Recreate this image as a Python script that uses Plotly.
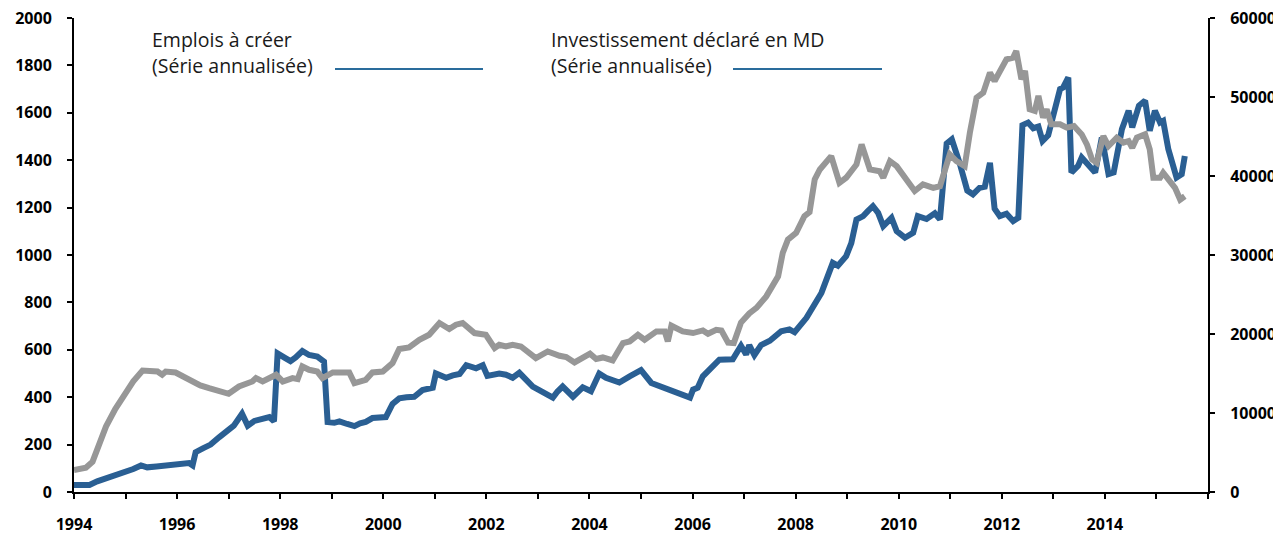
import plotly.graph_objects as go

# ---- data (decimal years) ----
emplois_x = [1994.00, 1994.15, 1994.30, 1994.45, 1994.6, 1994.8, 1995.0, 1995.15, 1995.3, 1995.42, 1995.6, 1995.8,
             1996.0, 1996.23, 1996.3, 1996.36, 1996.5, 1996.65, 1996.82, 1997.0, 1997.1, 1997.26, 1997.37, 1997.5,
             1997.59, 1997.79, 1997.88, 1997.95, 1998.1, 1998.2, 1998.3, 1998.43, 1998.56, 1998.72, 1998.85, 1998.92,
             1999.05, 1999.15, 1999.3, 1999.44, 1999.55, 1999.66, 1999.79, 2000.05, 2000.18, 2000.31, 2000.45, 2000.6,
             2000.76, 2000.96, 2001.02, 2001.22, 2001.35, 2001.48, 2001.61, 2001.8, 2001.93, 2002.02, 2002.25, 2002.38,
             2002.51, 2002.64, 2002.9, 2003.05, 2003.16, 2003.29, 2003.38, 2003.48, 2003.68, 2003.87, 2004.03, 2004.19,
             2004.32, 2004.45, 2004.58, 2004.78, 2005.0, 2005.2, 2005.35, 2005.49, 2005.68, 2005.8, 2005.95, 2006.01,
             2006.1, 2006.2, 2006.35, 2006.52, 2006.78, 2006.94, 2007.04, 2007.1, 2007.2, 2007.33, 2007.5, 2007.72,
             2007.88, 2007.98, 2008.21, 2008.37, 2008.5, 2008.72, 2008.82, 2008.98, 2009.08, 2009.18, 2009.31, 2009.4,
             2009.5, 2009.6, 2009.7, 2009.86, 2009.96, 2010.12, 2010.28, 2010.37, 2010.54, 2010.7, 2010.8, 2010.93,
             2011.03, 2011.18, 2011.33, 2011.44, 2011.57, 2011.67, 2011.77, 2011.86, 2011.96, 2012.09, 2012.22, 2012.32,
             2012.4, 2012.51, 2012.61, 2012.71, 2012.79, 2012.9, 2013.03, 2013.13, 2013.19, 2013.29, 2013.35, 2013.48,
             2013.55, 2013.65, 2013.81, 2013.94, 2014.07, 2014.17, 2014.33, 2014.46, 2014.53, 2014.66, 2014.78, 2014.87,
             2014.97, 2015.07, 2015.13, 2015.23, 2015.39, 2015.49, 2015.55]
emplois_y = [30, 28, 30, 45, 55, 68, 85, 97, 112, 104, 108, 114,
             117, 122, 112, 168, 184, 200, 232, 262, 280, 330, 280, 300,
             305, 316, 298, 585, 565, 552, 568, 595, 578, 571, 550, 295,
             292, 298, 287, 278, 290, 296, 312, 316, 372, 395, 400, 402,
             430, 440, 500, 482, 492, 498, 535, 522, 535, 490, 500, 495,
             482, 503, 445, 425, 410, 398, 424, 445, 402, 442, 425, 500,
             482, 470, 462, 488, 514, 460, 448, 438, 424, 410, 398, 432,
             440, 488, 520, 558, 560, 617, 580, 620, 578, 620, 638, 678,
             686, 674, 735, 790, 840, 967, 955, 995, 1050, 1150, 1164, 1185,
             1206, 1178, 1122, 1157, 1101, 1073, 1094, 1164, 1152, 1176, 1150, 1470,
             1488, 1389, 1272, 1256, 1284, 1288, 1389, 1195, 1164, 1174, 1143, 1157,
             1548, 1559, 1535, 1542, 1481, 1505, 1616, 1700, 1707, 1749, 1348, 1376,
             1411, 1389, 1348, 1496, 1341, 1348, 1531, 1609, 1538, 1630, 1651, 1524,
             1609, 1559, 1566, 1447, 1327, 1341, 1418]

invest_x = [1994.0, 1994.23, 1994.36, 1994.5, 1994.62, 1994.8, 1995.0, 1995.15, 1995.33, 1995.62, 1995.71, 1995.78,
            1995.97, 1996.1, 1996.3, 1996.45, 1996.62, 1996.8, 1997.0, 1997.2, 1997.46, 1997.53, 1997.66, 1997.92,
            1998.05, 1998.24, 1998.34, 1998.43, 1998.56, 1998.72, 1998.82, 1999.02, 1999.34, 1999.44, 1999.66, 1999.79,
            1999.99, 2000.18, 2000.31, 2000.5, 2000.7, 2000.89, 2001.09, 2001.28, 2001.41, 2001.54, 2001.77, 2001.99,
            2002.16, 2002.25, 2002.38, 2002.51, 2002.67, 2002.96, 2003.19, 2003.42, 2003.55, 2003.71, 2003.84, 2004.01,
            2004.13, 2004.26, 2004.45, 2004.65, 2004.78, 2004.94, 2005.07, 2005.3, 2005.46, 2005.52, 2005.59, 2005.81,
            2006.01, 2006.2, 2006.3, 2006.46, 2006.56, 2006.69, 2006.8, 2006.94, 2007.1, 2007.24, 2007.43, 2007.53,
            2007.66, 2007.75, 2007.85, 2008.01, 2008.17, 2008.27, 2008.37, 2008.47, 2008.69, 2008.85, 2008.98, 2009.18,
            2009.28, 2009.44, 2009.63, 2009.7, 2009.83, 2009.96, 2010.15, 2010.31, 2010.47, 2010.67, 2010.8, 2010.99,
            2011.12, 2011.28, 2011.38, 2011.51, 2011.64, 2011.77, 2011.86, 2012.09, 2012.22, 2012.28, 2012.38, 2012.45,
            2012.54, 2012.64, 2012.71, 2012.8, 2012.87, 2012.96, 2013.13, 2013.26, 2013.4, 2013.55, 2013.65, 2013.75,
            2013.84, 2013.97, 2014.07, 2014.23, 2014.36, 2014.46, 2014.53, 2014.62, 2014.78, 2014.87, 2014.94, 2015.07,
            2015.13, 2015.26, 2015.36, 2015.46, 2015.55]
invest_y = [2790, 3080, 3840, 6000, 8280, 10500, 12510, 14000, 15380, 15250, 14840, 15250,
            15130, 14700, 13990, 13500, 13150, 12800, 12430, 13350, 13990, 14420, 13990, 14840,
            13990, 14420, 14290, 15890, 15470, 15250, 14420, 15130, 15130, 13780, 14200, 15130,
            15250, 16320, 18100, 18300, 19270, 19900, 21390, 20630, 21180, 21390, 20120, 19900,
            18220, 18640, 18420, 18640, 18420, 16950, 17790, 17240, 17080, 16400, 16950, 17500,
            16830, 17030, 16650, 18850, 19060, 19900, 19270, 20330, 20330, 19060, 21050, 20330,
            20120, 20450, 20030, 20540, 20450, 18900, 18850, 21450, 22600, 23300, 24760, 26030,
            27300, 30270, 31950, 32800, 34910, 35420, 39560, 40830, 42520, 39140, 39780, 41460,
            44000, 40830, 40610, 39780, 41880, 41250, 39560, 38100, 38930, 38500, 38710, 42730,
            41880, 41250, 45480, 49920, 50560, 53090, 52030, 54780, 54990, 55830, 52240, 53300,
            48440, 48230, 50130, 47390, 48440, 46540, 46540, 46120, 46330, 45270, 44000, 42100,
            41670, 45060, 43790, 44850, 44220, 44430, 43580, 44850, 45270, 43370, 39780, 39780,
            40410, 39140, 38500, 37020, 37440]

year_ticks = list(range(1994, 2017))
year_labels = [str(y) if y % 2 == 0 and y < 2016 else "" for y in year_ticks]
left_ticks = [0, 200, 400, 600, 800, 1000, 1200, 1400, 1600, 1800, 2000]
right_ticks = [0, 10000, 20000, 30000, 40000, 50000, 60000]
right_labels = [str(v) for v in right_ticks]

label_emplois = ["Emplois à créer", "(Série annualisée)"]
label_invest = ["Investissement déclaré en MD", "(Série annualisée)"]

BLUE = "#2a5f93"
GRAY = "#979797"
LEG_BLUE = "#2a6c9c"
FONT = "Open Sans"

# the page body adds an 8px offset; compensate so the plot sits where the original does
OFF = 8
W, H = 1281 - OFF, 535 - OFF
ML, MR, MT, MB = 74 - OFF, 73, 18 - OFF, 43

fig = go.Figure()
fig.add_trace(go.Scatter(x=emplois_x, y=emplois_y, mode="lines", name=label_emplois[0],
                         line=dict(color=BLUE, width=6), yaxis="y", xaxis="x"))
fig.add_trace(go.Scatter(x=invest_x, y=invest_y, mode="lines", name=label_invest[0],
                         line=dict(color=GRAY, width=6), yaxis="y2", xaxis="x"))

tickfont = dict(family=FONT, size=16, color="black", weight="bold")
common_tick = dict(ticklen=5, tickwidth=2, tickcolor="black", showgrid=False, zeroline=False,
                   automargin=False)

fig.update_layout(
    width=W, height=H,
    margin=dict(l=ML, r=MR, t=MT, b=MB),
    plot_bgcolor="white", paper_bgcolor="white",
    showlegend=False,
    font=dict(family=FONT, color="black"),
    xaxis=dict(range=[1994, 2016], tickvals=year_ticks, ticktext=year_labels, ticks="outside",
               showline=True, linecolor="black", linewidth=2, tickfont=tickfont,
               ticklabelstandoff=12, ticklabeloverflow="allow", **common_tick),
    xaxis2=dict(range=[1994, 2016], overlaying="x", anchor="y", side="bottom", tickvals=year_ticks,
                ticks="inside", showticklabels=False, showline=False, **common_tick),
    yaxis=dict(range=[0, 2000], tickvals=left_ticks, ticks="outside", showline=True, linecolor="black",
               linewidth=2, tickfont=tickfont, ticklabelstandoff=12, ticklabeloverflow="allow",
               **common_tick),
    yaxis2=dict(range=[0, 60000], tickvals=right_ticks, ticktext=right_labels, ticks="outside",
                overlaying="y", side="right", anchor="x", showline=True, linecolor="black", linewidth=2,
                tickfont=tickfont, ticklabelstandoff=12, ticklabeloverflow="allow", **common_tick),
    yaxis3=dict(range=[0, 2000], tickvals=left_ticks, ticks="inside", overlaying="y", side="left",
                anchor="x", showticklabels=False, showline=False, **common_tick),
    yaxis4=dict(range=[0, 60000], tickvals=right_ticks, ticks="inside", overlaying="y", side="right",
                anchor="x", showticklabels=False, showline=False, **common_tick),
)

# legend drawn as text + line samples (as in the original chart); positions in page pixels
def px_x(p):
    return (p - 74) / (W - ML - MR)

def px_y(p):
    return (492 - p) / (H - MT - MB)

legfont = dict(family=FONT, size=19.5, color="#1a1a1a")
for left, labels, l0, l1 in [(150, label_emplois, 335, 483), (549, label_invest, 733, 882)]:
    for i, txt in enumerate(labels):
        fig.add_annotation(x=px_x(left), y=px_y(40 + 26 * i), xref="paper", yref="paper",
                           text=txt, showarrow=False, xanchor="left", yanchor="middle", font=legfont)
    fig.add_shape(type="line", xref="paper", yref="paper", x0=px_x(l0), x1=px_x(l1),
                  y0=px_y(69), y1=px_y(69), line=dict(color=LEG_BLUE, width=2))

fig.write_html("out.html")
